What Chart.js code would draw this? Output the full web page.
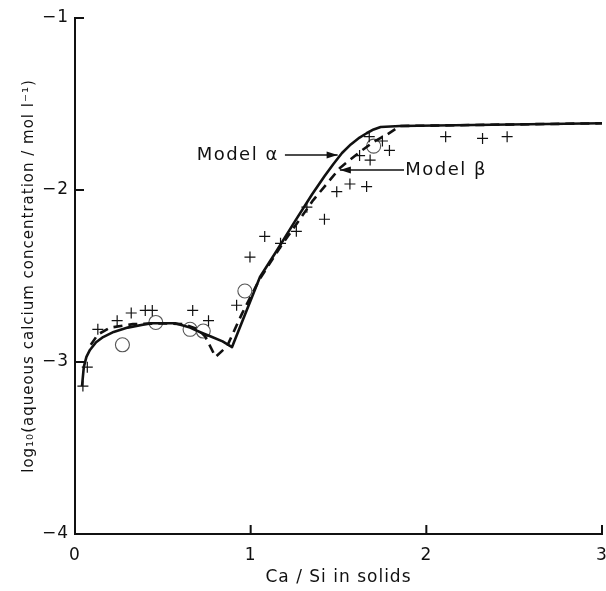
<!DOCTYPE html>
<html>
<head>
<meta charset="utf-8">
<script src="https://cdn.jsdelivr.net/npm/chart.js@4.4.1/dist/chart.umd.min.js"></script>
<style>
  html, body { margin: 0; padding: 0; background: #fff; }
  #wrap { width: 606px; height: 591px; position: relative; }
</style>
</head>
<body>
<div id="wrap"><canvas id="c" width="606" height="591"></canvas></div>
<script>
// ---- Data ----
const xTicks = [0, 1, 2, 3];
const yTicks = [-4, -3, -2, -1];

// Model alpha (solid line)
const alphaX = [0.04, 0.05, 0.065, 0.085, 0.12, 0.16, 0.22, 0.30, 0.43, 0.57, 0.655, 0.72, 0.77, 0.84, 0.894, 1.053, 1.15, 1.25, 1.35, 1.42, 1.47, 1.52, 1.57, 1.62, 1.66, 1.70, 1.74, 1.85, 3.0];
const alphaY = [-3.14, -3.03, -2.97, -2.93, -2.885, -2.855, -2.825, -2.80, -2.775, -2.775, -2.80, -2.83, -2.85, -2.88, -2.913, -2.506, -2.35, -2.185, -2.025, -1.92, -1.85, -1.785, -1.735, -1.695, -1.67, -1.648, -1.634, -1.628, -1.612];

// Model beta (dashed line)
const betaX = [0.09, 0.13, 0.20, 0.33, 0.50, 0.62, 0.70, 0.74, 0.80, 0.865, 0.95, 1.05, 1.17, 1.355, 1.51, 1.62, 1.70, 1.78, 1.85, 3.0];
const betaY = [-2.90, -2.84, -2.80, -2.78, -2.775, -2.78, -2.81, -2.85, -2.97, -2.91, -2.72, -2.52, -2.33, -2.06, -1.87, -1.78, -1.72, -1.675, -1.628, -1.612];

// Experimental points (crosses)
const crossX = [0.045, 0.07, 0.13, 0.24, 0.32, 0.40, 0.44, 0.67, 0.76, 0.92, 0.996, 1.08, 1.17, 1.26, 1.32, 1.42, 1.49, 1.565, 1.66, 1.62, 1.68, 1.675, 1.75, 1.79, 2.11, 2.32, 2.46];
const crossY = [-3.14, -3.03, -2.81, -2.76, -2.715, -2.70, -2.70, -2.70, -2.76, -2.67, -2.39, -2.27, -2.31, -2.24, -2.10, -2.17, -2.01, -1.965, -1.98, -1.80, -1.826, -1.69, -1.715, -1.77, -1.69, -1.70, -1.69];

// Experimental points (open circles)
const circleX = [0.27, 0.46, 0.655, 0.73, 0.967, 1.70];
const circleY = [-2.90, -2.77, -2.81, -2.82, -2.587, -1.745];

// Annotation labels
const labelTexts = ['Model α', 'Model β'];

const pts = (xs, ys) => xs.map((x, i) => ({ x: x, y: ys[i] }));

const FONT = "'DejaVu Sans', sans-serif";

const spacingPlugin = {
  id: 'spacing',
  beforeLayout(chart) { chart.ctx.letterSpacing = '1px'; },
  beforeDraw(chart) { chart.ctx.letterSpacing = '1px'; }
};

const ticksPlugin = {
  id: 'innerTicks',
  afterDraw(chart) {
    const { ctx, scales: { x, y }, chartArea: a } = chart;
    ctx.save();
    ctx.strokeStyle = '#111';
    ctx.lineWidth = 2;
    ctx.beginPath();
    xTicks.forEach(v => {
      if (v === 0) return;
      const px = x.getPixelForValue(v);
      ctx.moveTo(px, a.bottom);
      ctx.lineTo(px, a.bottom - 9);
    });
    yTicks.forEach(v => {
      if (v === -4) return;
      const py = y.getPixelForValue(v);
      ctx.moveTo(a.left, py);
      ctx.lineTo(a.left + 9, py);
    });
    ctx.stroke();
    ctx.restore();
  }
};

function arrow(ctx, x1, y1, x2, y2) {
  ctx.beginPath();
  ctx.moveTo(x1, y1);
  ctx.lineTo(x2, y2);
  ctx.stroke();
  const ang = Math.atan2(y2 - y1, x2 - x1);
  const L = 11, W = 3.5;
  ctx.beginPath();
  ctx.moveTo(x2, y2);
  ctx.lineTo(x2 - L * Math.cos(ang) + W * Math.sin(ang), y2 - L * Math.sin(ang) - W * Math.cos(ang));
  ctx.lineTo(x2 - L * Math.cos(ang) - W * Math.sin(ang), y2 - L * Math.sin(ang) + W * Math.cos(ang));
  ctx.closePath();
  ctx.fill();
}

const labelPlugin = {
  id: 'modelLabels',
  afterDatasetsDraw(chart) {
    const { ctx, scales: { x, y } } = chart;
    ctx.save();
    ctx.letterSpacing = '1.5px';
    ctx.fillStyle = '#111';
    ctx.strokeStyle = '#111';
    ctx.lineWidth = 1.5;
    ctx.font = "18px " + FONT;
    ctx.textBaseline = 'middle';
    // Model alpha
    ctx.textAlign = 'right';
    ctx.fillText(labelTexts[0], x.getPixelForValue(1.16), y.getPixelForValue(-1.80));
    arrow(ctx, x.getPixelForValue(1.195), y.getPixelForValue(-1.797), x.getPixelForValue(1.495), y.getPixelForValue(-1.797));
    // Model beta
    ctx.textAlign = 'left';
    ctx.fillText(labelTexts[1], x.getPixelForValue(1.88), y.getPixelForValue(-1.884));
    arrow(ctx, x.getPixelForValue(1.873), y.getPixelForValue(-1.884), x.getPixelForValue(1.508), y.getPixelForValue(-1.884));
    ctx.restore();
  }
};

new Chart(document.getElementById('c'), {
  type: 'scatter',
  data: {
    datasets: [
      {
        type: 'line', label: 'Model β', data: pts(betaX, betaY),
        borderColor: '#111', borderWidth: 2.6, borderDash: [9, 6], pointRadius: 0, fill: false,
        tension: 0, borderJoinStyle: 'round'
      },
      {
        type: 'line', label: 'Model α', data: pts(alphaX, alphaY),
        borderColor: '#111', borderWidth: 2.6, pointRadius: 0, fill: false,
        tension: 0, borderJoinStyle: 'round'
      },
      {
        label: 'crosses', data: pts(crossX, crossY), showLine: false,
        pointStyle: 'cross', pointRadius: 5.5, borderColor: '#111', borderWidth: 1.2,
        backgroundColor: '#111'
      },
      {
        label: 'circles', data: pts(circleX, circleY), showLine: false,
        pointStyle: 'circle', pointRadius: 7, borderColor: '#555', borderWidth: 1.1,
        backgroundColor: '#fff'
      }
    ]
  },
  options: {
    responsive: false,
    animation: false,
    devicePixelRatio: 1,
    layout: { autoPadding: false, padding: { top: 18, right: 4, left: 0, bottom: 0 } },
    plugins: { legend: { display: false }, tooltip: { enabled: false } },
    scales: {
      x: {
        type: 'linear', min: 0, max: 3,
        afterFit(s) { s.height = 57; s.paddingLeft = 0; s.paddingRight = 0; },
        afterBuildTicks(s) { s.ticks = xTicks.map(v => ({ value: v })); },
        ticks: { color: '#111', font: { family: FONT, size: 17 }, padding: 11 },
        grid: { display: true, drawOnChartArea: false, drawTicks: false },
        border: { display: true, color: '#111', width: 2 },
        title: { display: true, text: 'Ca / Si in solids', color: '#111',
                 font: { family: FONT, size: 17 }, padding: { top: 0, bottom: 3 } }
      },
      y: {
        type: 'linear', min: -4, max: -1,
        afterFit(s) { s.width = 75; s.paddingTop = 0; s.paddingBottom = 0; },
        afterBuildTicks(s) { s.ticks = yTicks.map(v => ({ value: v })); },
        ticks: { color: '#111', font: { family: FONT, size: 17 }, padding: 6,
                 callback: v => (v < 0 ? '−' : '') + Math.abs(v) },
        grid: { display: true, drawOnChartArea: false, drawTicks: false },
        border: { display: true, color: '#111', width: 2 },
        title: { display: true, text: 'log₁₀(aqueous calcium concentration / mol l⁻¹)', color: '#111',
                 font: { family: FONT, size: 15 }, padding: { top: 20, bottom: 0 } }
      }
    }
  },
  plugins: [spacingPlugin, ticksPlugin, labelPlugin]
});
</script>
</body>
</html>
